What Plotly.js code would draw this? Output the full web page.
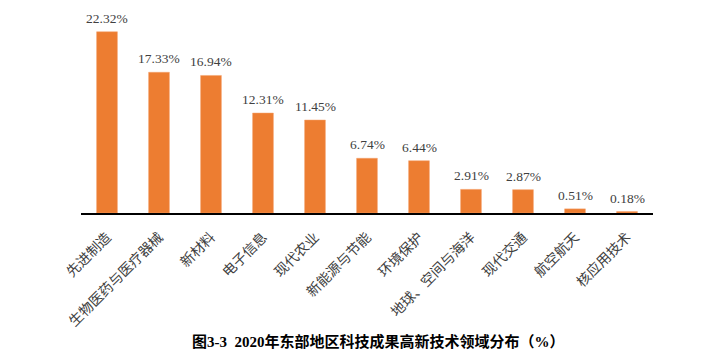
<!DOCTYPE html>
<html><head><meta charset="utf-8">
<script src="https://cdn.plot.ly/plotly-3.0.1.min.js"></script>
<style>html,body{margin:0;padding:0;background:#fff}</style>
</head><body>
<div id="chart" style="width:725px;height:359px"></div>
<script>
const categories = ["先进制造","生物医药与医疗器械","新材料","电子信息","现代农业","新能源与节能","环境保护","地球、空间与海洋","现代交通","航空航天","核应用技术"];
const values = [22.32,17.33,16.94,12.31,11.45,6.74,6.44,2.91,2.87,0.51,0.18];
const chartTitle = "图3-3  2020年东部地区科技成果高新技术领域分布（%）";

const valueLabels = categories.map((c, i) => ({
  x: c, y: values[i], xref: "x", yref: "y",
  text: values[i].toFixed(2) + "%",
  showarrow: false, xanchor: "center", yanchor: "bottom", yshift: 4,
  font: {family: "Liberation Serif, Noto Sans CJK SC", size: 13.5, color: "#404040"}
}));

Plotly.newPlot("chart", [{
  type: "bar",
  x: categories,
  y: values,
  marker: {color: "#ED7D31", line: {color: "#F4A36E", width: 0.5}},
  hoverinfo: "none"
}], {
  width: 725, height: 359,
  margin: {l: 81, r: 72, t: 10, b: 146},
  paper_bgcolor: "#fff", plot_bgcolor: "#fff",
  bargap: 0.6,
  showlegend: false,
  xaxis: {
    tickangle: -45,
    tickfont: {family: "Noto Sans CJK SC", size: 14, color: "#404040"},
    ticklabelstandoff: 9,
    showline: true, linecolor: "#000", linewidth: 1.5,
    ticks: "", showgrid: false, zeroline: false
  },
  yaxis: {range: [0, 25], visible: false, showgrid: false, zeroline: false},
  annotations: valueLabels.concat([{
    text: chartTitle, xref: "paper", yref: "paper", x: 0.52, y: -0.635,
    xanchor: "center", yanchor: "middle", showarrow: false,
    font: {family: "Liberation Serif, Noto Sans CJK SC", size: 15, color: "#000", weight: "bold"}
  }])
}, {displayModeBar: false, staticPlot: true});
</script>
</body></html>
